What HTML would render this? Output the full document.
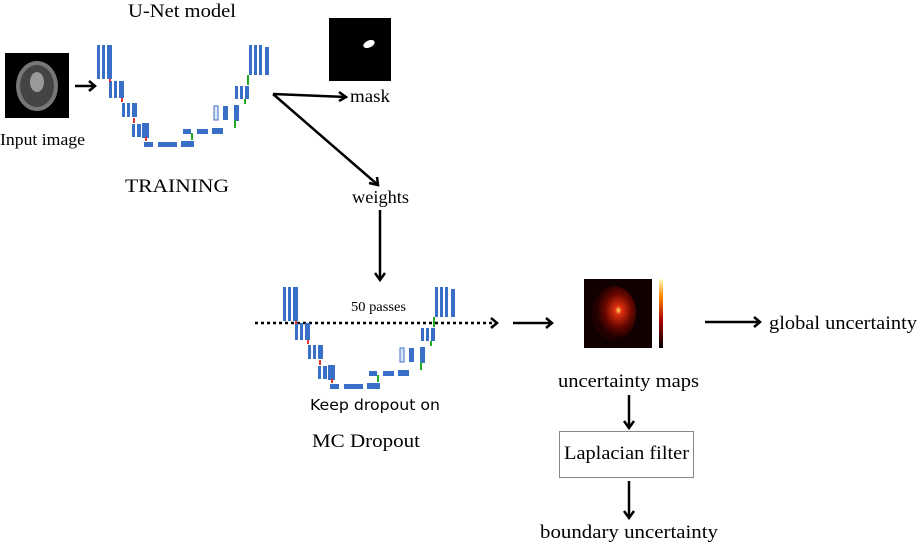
<!DOCTYPE html>
<html><head><style>body{margin:0;background:#fff}svg{display:block}text{font-family:"Liberation Serif",serif;fill:#000}</style></head>
<body>
<svg width="920" height="542" viewBox="0 0 920 542" xmlns="http://www.w3.org/2000/svg">
<defs>
<g id="unet">
 <g fill="#3a6fc8">
  <rect x="0" y="2" width="3" height="34"/><rect x="5" y="2" width="3" height="34"/><rect x="10" y="2" width="5" height="34"/>
  <rect x="12" y="38" width="3" height="17"/><rect x="17" y="38" width="3" height="17"/><rect x="22" y="38" width="5" height="17"/>
  <rect x="25" y="60" width="3" height="14"/><rect x="30" y="60" width="3" height="14"/><rect x="35" y="60" width="5" height="14"/>
  <rect x="35" y="81" width="3" height="13"/><rect x="40" y="81" width="4" height="13"/><rect x="45" y="80" width="7" height="15"/>
  <rect x="47" y="99" width="9" height="5"/><rect x="61" y="99" width="19" height="5"/><rect x="84" y="98" width="13" height="6"/>
  <rect x="86" y="86" width="8" height="5"/><rect x="100" y="86" width="11" height="5"/><rect x="115" y="85" width="11" height="6"/>
  <rect x="117" y="63" width="4" height="14" fill="#dfe8f8" stroke="#3a6fc8" stroke-width="1"/><rect x="126" y="63" width="5" height="14"/><rect x="137" y="62" width="5" height="16"/>
  <rect x="138" y="43" width="3" height="13"/><rect x="143" y="43" width="3" height="13"/><rect x="148" y="43" width="4" height="13"/>
  <rect x="152" y="2" width="3" height="30"/><rect x="157" y="2" width="3" height="30"/><rect x="162" y="2" width="3" height="30"/><rect x="168" y="4" width="4" height="28"/>
 </g>
 <g fill="#d33"><rect x="12" y="36" width="2" height="3"/><rect x="24" y="55" width="2" height="4"/><rect x="36" y="75" width="2" height="5"/><rect x="48" y="94" width="2" height="4"/></g>
 <g fill="#2a2"><rect x="94" y="90" width="2" height="7"/><rect x="137" y="77" width="2" height="8"/><rect x="147" y="56" width="2" height="5"/><rect x="150" y="32" width="2" height="10"/></g>
</g>
</defs>
<rect x="5" y="53" width="64" height="65" fill="#000"/>
<ellipse cx="37" cy="86" rx="21" ry="25" fill="#777"/><ellipse cx="37" cy="86" rx="17" ry="21" fill="#444"/><ellipse cx="37" cy="82" rx="7" ry="10" fill="#999"/>
<text x="0" y="145" font-size="17" textLength="85" lengthAdjust="spacingAndGlyphs">Input image</text>
<text x="128" y="17" font-size="19" textLength="108" lengthAdjust="spacingAndGlyphs">U-Net model</text>
<use href="#unet" x="97" y="43"/>
<text x="125" y="192" font-size="19" textLength="104" lengthAdjust="spacingAndGlyphs">TRAINING</text>
<rect x="329" y="18" width="62" height="63" fill="#000"/>
<ellipse cx="369" cy="44" rx="6" ry="3.5" fill="#fff" transform="rotate(-25 369 44)"/>
<text x="350" y="102" font-size="18" textLength="40" lengthAdjust="spacingAndGlyphs">mask</text>
<text x="352" y="203" font-size="18" textLength="57" lengthAdjust="spacingAndGlyphs">weights</text>
<g stroke="#000" stroke-width="2.5" fill="none">
 <line x1="75" y1="86" x2="94" y2="86"/><polyline points="89,81 95,86 89,91"/>
 <line x1="273" y1="94" x2="346" y2="97"/><polyline points="339,92 346,97 339,101"/>
 <line x1="273" y1="94" x2="378" y2="185"/><polyline points="369,183 378,185 377,177"/>
 <line x1="380" y1="210" x2="380" y2="280"/><polyline points="375,273 380,280 385,273"/>
 <line x1="255" y1="323" x2="497" y2="323" stroke-dasharray="3,3"/><polyline points="491,318 497,323 491,328"/>
 <line x1="513" y1="323" x2="552" y2="323"/><polyline points="546,318 552,323 546,328"/>
 <line x1="705" y1="322" x2="760" y2="322"/><polyline points="754,317 760,322 754,327"/>
 <line x1="629" y1="395" x2="629" y2="428"/><polyline points="624,421 629,428 634,421"/>
 <line x1="629" y1="481" x2="629" y2="518"/><polyline points="624,511 629,518 634,511"/>
</g>
<use href="#unet" x="283" y="285"/>
<text x="351" y="311" font-size="14" textLength="55" lengthAdjust="spacingAndGlyphs">50 passes</text>
<text x="310" y="410" font-size="15" style="font-family:'DejaVu Sans',sans-serif" textLength="130" lengthAdjust="spacingAndGlyphs">Keep dropout on</text>
<text x="312" y="447" font-size="19" textLength="108" lengthAdjust="spacingAndGlyphs">MC Dropout</text>
<defs><radialGradient id="hg" cx="0.6" cy="0.45" r="0.5"><stop offset="0" stop-color="#ffe060"/><stop offset="0.15" stop-color="#e03010"/><stop offset="0.6" stop-color="#6a0800"/><stop offset="1" stop-color="#200000"/></radialGradient>
<linearGradient id="cb" x1="0" y1="1" x2="0" y2="0"><stop offset="0" stop-color="#000"/><stop offset="0.4" stop-color="#a00"/><stop offset="0.75" stop-color="#f80"/><stop offset="1" stop-color="#ffffc0"/></linearGradient></defs>
<rect x="584" y="279" width="68" height="69" fill="#100000"/>
<ellipse cx="614" cy="313" rx="22" ry="27" fill="url(#hg)"/>
<rect x="659" y="279" width="4" height="69" fill="url(#cb)"/>
<text x="558" y="387" font-size="19" textLength="141" lengthAdjust="spacingAndGlyphs">uncertainty maps</text>
<text x="769" y="329" font-size="19" textLength="148" lengthAdjust="spacingAndGlyphs">global uncertainty</text>
<rect x="559.5" y="431.5" width="134" height="46" fill="#fff" stroke="#888"/>
<text x="564" y="459" font-size="19" textLength="125" lengthAdjust="spacingAndGlyphs">Laplacian filter</text>
<text x="540" y="538" font-size="19" textLength="178" lengthAdjust="spacingAndGlyphs">boundary uncertainty</text>
</svg>
</body></html>
